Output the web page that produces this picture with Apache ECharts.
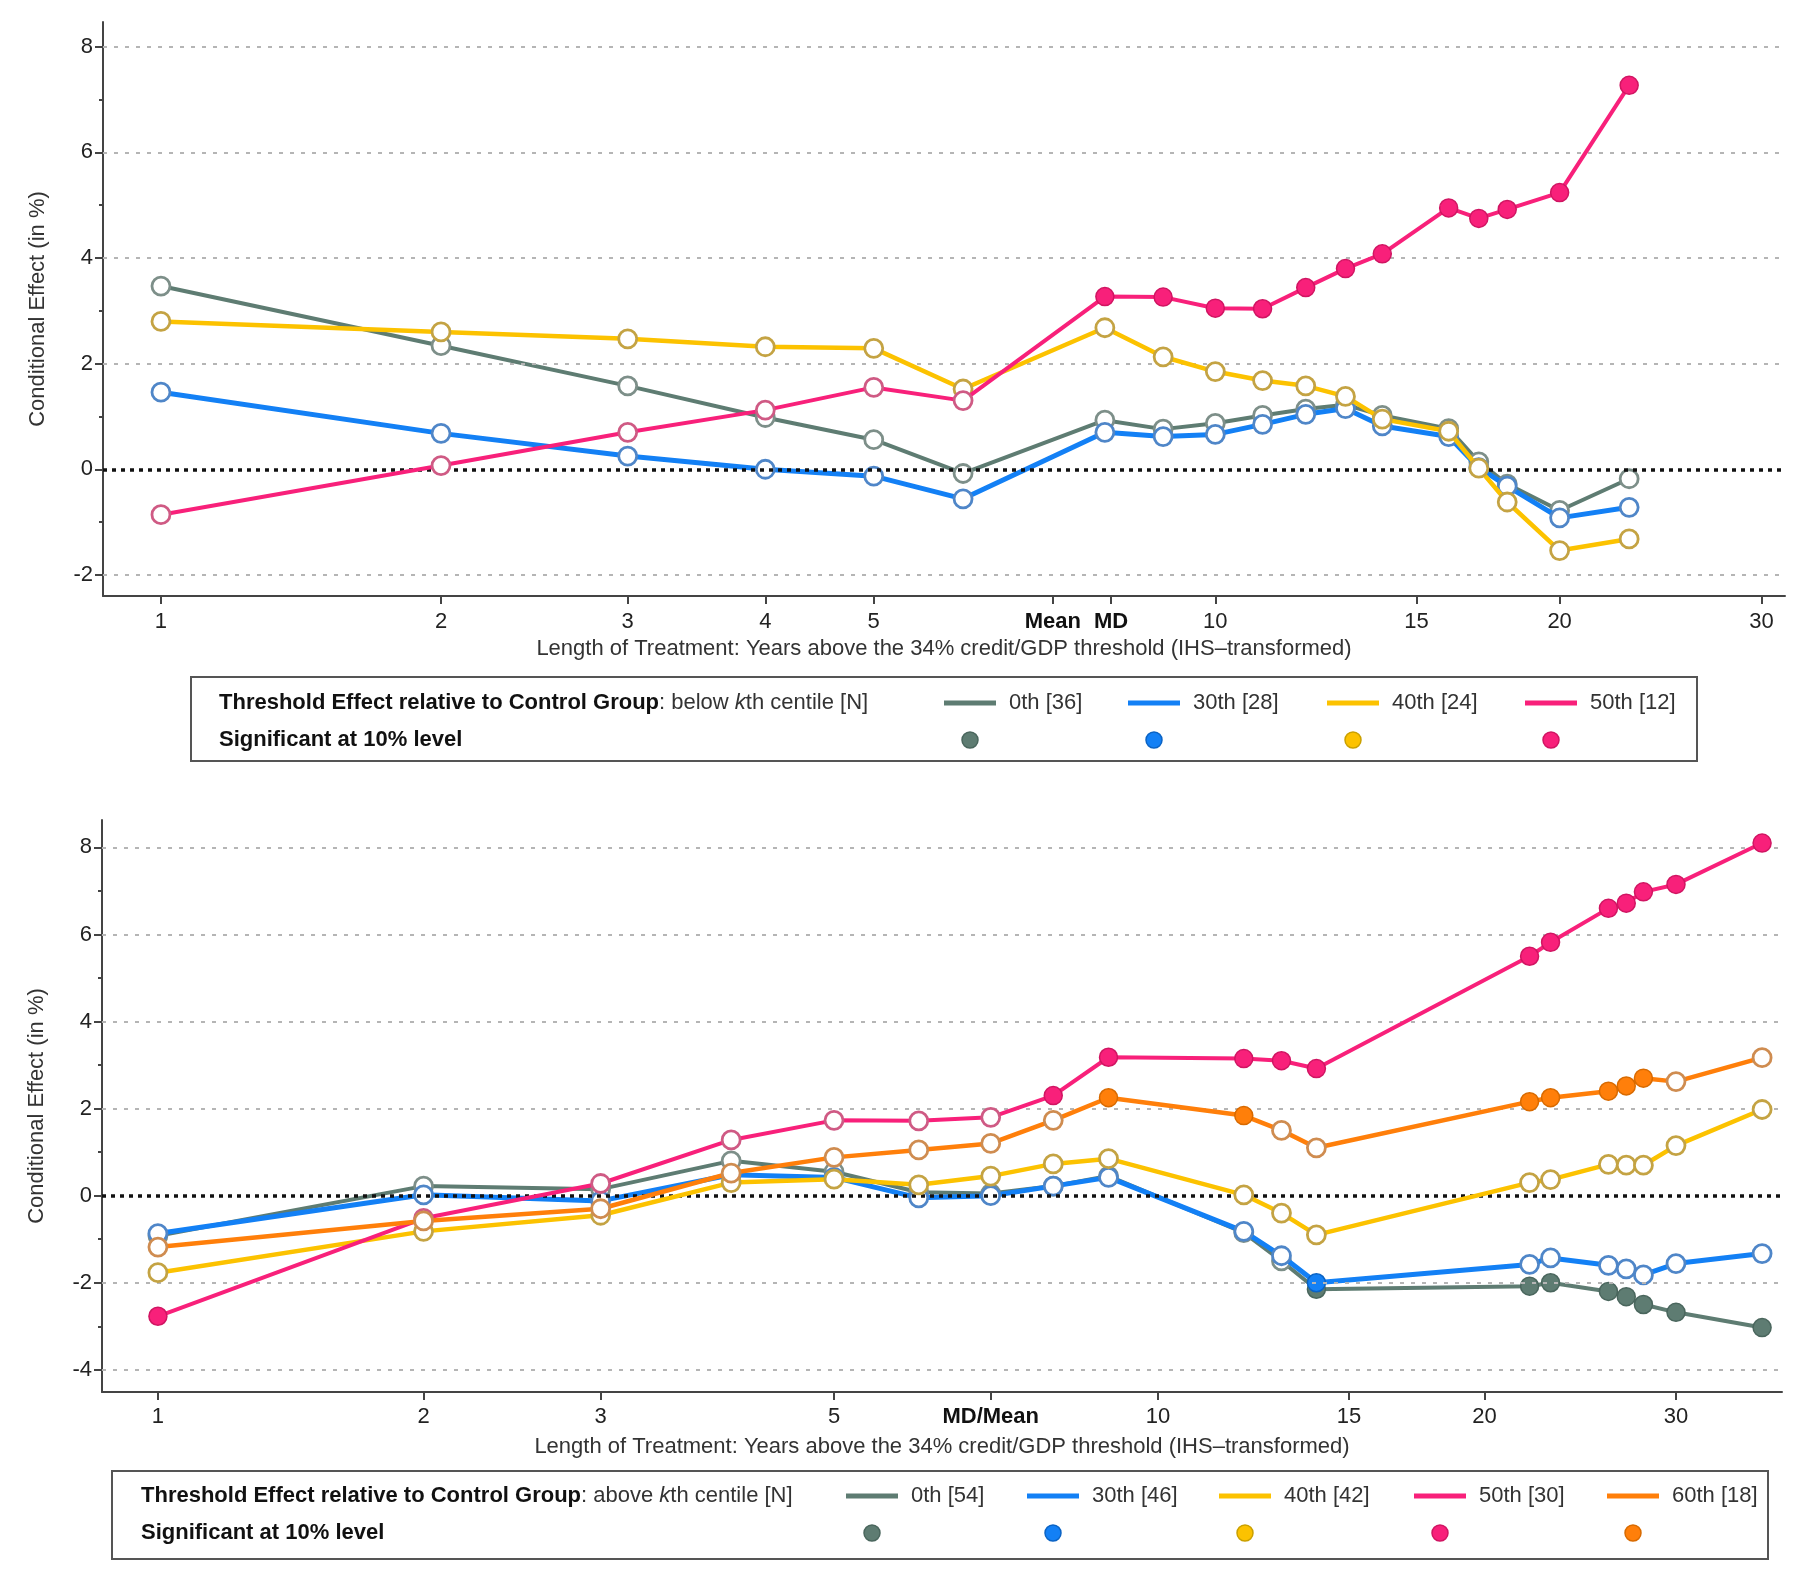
<!DOCTYPE html>
<html><head><meta charset="utf-8">
<script src="https://cdn.jsdelivr.net/npm/echarts@6/dist/echarts.min.js"></script>
<style>html,body{margin:0;padding:0;background:#fff}#c{width:1813px;height:1570px}</style>
</head><body><div id="c"></div>
<script>
// ===== DATA: Panel A (below kth centile) =====
const topYears = [1,2,3,4,5,6,8,9,10,11,12,13,14,16,17,18,20,23];
const topNames = ['0th [36]','30th [28]','40th [24]','50th [12]'];
const top0th  = [3.47,2.34,1.58,0.98,0.56,-0.08,0.93,0.76,0.87,1.02,1.14,1.22,1.02,0.77,0.14,-0.28,-0.78,-0.18];
const top30th = [1.46,0.68,0.25,0.00,-0.13,-0.56,0.70,0.62,0.66,0.85,1.04,1.15,0.82,0.62,0.03,-0.32,-0.92,-0.72];
const top40th = [2.80,2.60,2.47,2.32,2.29,1.52,2.68,2.13,1.85,1.68,1.58,1.38,0.95,0.72,0.02,-0.62,-1.54,-1.32];
const top50th = [-0.86,0.07,0.70,1.12,1.55,1.30,3.27,3.26,3.05,3.04,3.44,3.80,4.08,4.95,4.75,4.92,5.24,7.27];
const topSig0th  = [0,0,0,0,0,0,0,0,0,0,0,0,0,0,0,0,0,0];
const topSig30th = [0,0,0,0,0,0,0,0,0,0,0,0,0,0,0,0,0,0];
const topSig40th = [0,0,0,0,0,0,0,0,0,0,0,0,0,0,0,0,0,0];
const topSig50th = [0,0,0,0,0,0,1,1,1,1,1,1,1,1,1,1,1,1];
const topTickYears  = [1,2,3,4,5,7.2,8.1,10,15,20,30];
const topTickLabels = ['1','2','3','4','5','Mean','MD','10','15','20','30'];

// ===== DATA: Panel B (above kth centile) =====
const botYears = [1,2,3,4,5,6,7,8,9,12,13,14,22,23,26,27,28,30,36];
const botNames = ['0th [54]','30th [46]','40th [42]','50th [30]','60th [18]'];
const bot0th  = [-0.92,0.22,0.15,0.80,0.55,0.08,0.05,0.22,0.45,-0.85,-1.50,-2.15,-2.08,-2.00,-2.20,-2.32,-2.50,-2.68,-3.03];
const bot30th = [-0.87,0.02,-0.12,0.48,0.42,-0.05,0.00,0.22,0.42,-0.82,-1.38,-2.00,-1.58,-1.43,-1.60,-1.68,-1.82,-1.56,-1.33];
const bot40th = [-1.77,-0.82,-0.45,0.30,0.38,0.25,0.45,0.73,0.85,0.02,-0.40,-0.90,0.30,0.37,0.72,0.70,0.70,1.15,1.98];
const bot50th = [-2.77,-0.52,0.28,1.28,1.73,1.72,1.80,2.30,3.18,3.15,3.10,2.92,5.50,5.82,6.60,6.72,6.98,7.15,8.10];
const bot60th = [-1.18,-0.58,-0.30,0.52,0.88,1.05,1.20,1.73,2.25,1.84,1.50,1.10,2.16,2.25,2.40,2.52,2.70,2.62,3.17];
const botSig0th  = [0,0,0,0,0,0,0,0,0,0,0,1,1,1,1,1,1,1,1];
const botSig30th = [0,0,0,0,0,0,0,0,0,0,0,1,0,0,0,0,0,0,0];
const botSig40th = [0,0,0,0,0,0,0,0,0,0,0,0,0,0,0,0,0,0,0];
const botSig50th = [1,0,0,0,0,0,0,1,1,1,1,1,1,1,1,1,1,1,1];
const botSig60th = [0,0,0,0,0,0,0,0,1,1,0,0,1,1,1,1,1,0,0];
const botTickYears  = [1,2,3,5,7,10,15,20,30];
const botTickLabels = ['1','2','3','5','MD/Mean','10','15','20','30'];

const yTicks = [-2,0,2,4,6,8];
const yTicksBot = [-4,-2,0,2,4,6,8];
const yMinor = [-1,1,3,5,7];
const yMinorBot = [-3,-1,1,3,5,7];
const gridVals = [-2,2,4,6,8];
const gridValsBot = [-4,-2,2,4,6,8];

// ===== STYLE =====
const FONT = 'Liberation Sans, Arial, sans-serif';
const TXT = '#222';
const FS = 22;
const pal = [
  {line:'#5e7c72', fill:'#5e7c72', dark:'#4a665d', hollow:'#7d8f89', w:4},
  {line:'#1380f5', fill:'#1380f5', dark:'#0b63c4', hollow:'#4f86c8', w:5},
  {line:'#fcc200', fill:'#fcc200', dark:'#caa000', hollow:'#c4a343', w:4.5},
  {line:'#f8207a', fill:'#f8207a', dark:'#d01562', hollow:'#cf5a84', w:4},
  {line:'#ff7f0a', fill:'#ff7f0a', dark:'#d86a00', hollow:'#cf8c50', w:4.5}
];

const T = Math.asinh;

function mkSeries(name, years, vals, sig, p, xi, yi, z){
  return {
    type:'line', name, xAxisIndex:xi, yAxisIndex:yi, z,
    symbol:'circle', symbolSize:18, showSymbol:true, color:p.line,
    lineStyle:{color:p.line, width:p.w},
    emphasis:{disabled:true}, silent:true,
    data: years.map((yr,i)=>({
      value:[T(yr), vals[i]],
      itemStyle: sig[i] ? {color:p.fill, borderColor:p.dark, borderWidth:1.5}
                        : {color:'#ffffff', borderColor:p.hollow, borderWidth:2.8}
    }))
  };
}

function guideSeries(xi, yi, vals){
  return {
    type:'line', xAxisIndex:xi, yAxisIndex:yi, data:[], z:1, silent:true,
    markLine:{
      silent:true, symbol:['none','none'], label:{show:false}, animation:false,
      data: vals.map(v=>({yAxis:v, lineStyle:{color:'#b5b5b5', type:[4,7], width:2}}))
        .concat([{yAxis:0, lineStyle:{color:'#111', type:[4,5], width:3.5}}])
    }
  };
}

function xAxisCfg(gi, min, max, tickYears, tickLabels, nameGap, margin){
  const tv = tickYears.map(T);
  return {
    type:'value', gridIndex:gi, min, max,
    name:'Length of Treatment: Years above the 34% credit/GDP threshold (IHS\u2013transformed)',
    nameLocation:'middle', nameGap,
    nameTextStyle:{fontFamily:FONT, fontSize:FS, color:'#333'},
    axisLine:{show:true, onZero:false, lineStyle:{color:'#444', width:2}},
    axisTick:{show:true, customValues:tv, length:8, lineStyle:{color:'#444', width:2}},
    axisLabel:{
      customValues:tv, margin, fontFamily:FONT, fontSize:FS, color:TXT,
      formatter:(v)=>{
        let k = 0, best = 1e9;
        tv.forEach((t,i)=>{ const d=Math.abs(t-v); if(d<best){best=d;k=i;} });
        const s = tickLabels[k];
        return isNaN(+s) ? '{b|'+s+'}' : s;
      },
      rich:{b:{fontFamily:FONT, fontSize:FS, fontWeight:'bold', color:'#111'}}
    },
    splitLine:{show:false}
  };
}

function yAxisCfg(gi, min, max, ticks){
  return {
    type:'value', gridIndex:gi, min, max, position:'left',
    name:'Conditional Effect (in %)', nameLocation:'middle', nameGap:54, nameRotate:90,
    nameTextStyle:{fontFamily:FONT, fontSize:FS, color:'#333'},
    axisLine:{show:true, lineStyle:{color:'#444', width:2}},
    axisTick:{show:true, customValues:ticks, length:8, lineStyle:{color:'#444', width:2}},
    axisLabel:{customValues:ticks, margin:10, fontFamily:FONT, fontSize:FS, color:TXT},
    splitLine:{show:false}
  };
}
function yMinorCfg(gi, min, max, ticks){
  return {
    type:'value', gridIndex:gi, min, max, position:'left',
    axisLine:{show:false},
    axisTick:{show:true, customValues:ticks, length:4, lineStyle:{color:'#444', width:2}},
    axisLabel:{show:false}, splitLine:{show:false}
  };
}

// legend drawing (graphic)
function legend(box, textX, row1, row2, prefix, names, itemX){
  const els = [];
  els.push({type:'rect', shape:{x:box[0], y:box[1], width:box[2], height:box[3]},
    style:{fill:'#fff', stroke:'#555', lineWidth:2}, z:10});
  els.push({type:'text', x:textX, y:row1, z:11, style:{
    text:'{b|Threshold Effect relative to Control Group}{n|: '+prefix+' }{i|k}{n|th centile [N]}',
    verticalAlign:'middle',
    rich:{
      b:{fontFamily:FONT, fontSize:FS, fontWeight:'bold', fill:'#111'},
      n:{fontFamily:FONT, fontSize:FS, fill:'#333'},
      i:{fontFamily:FONT, fontSize:FS, fontStyle:'italic', fill:'#333'}
    }}});
  els.push({type:'text', x:textX, y:row2, z:11, style:{
    text:'Significant at 10% level', fontFamily:FONT, fontSize:FS, fontWeight:'bold',
    fill:'#111', verticalAlign:'middle'}});
  names.forEach((nm,i)=>{
    const x0 = itemX[i], p = pal[i];
    els.push({type:'line', z:11, shape:{x1:x0, y1:row1, x2:x0+52, y2:row1},
      style:{stroke:p.line, lineWidth:5}});
    els.push({type:'text', z:11, x:x0+65, y:row1, style:{text:nm, fontFamily:FONT,
      fontSize:FS, fill:'#333', verticalAlign:'middle'}});
    els.push({type:'circle', z:11, shape:{cx:x0+26, cy:row2, r:8},
      style:{fill:p.fill, stroke:p.dark, lineWidth:1.5}});
  });
  return els;
}

const chart = echarts.init(document.getElementById('c'), null, {renderer:'canvas'});
const topSets = [top0th, top30th, top40th, top50th];
const topSigs = [topSig0th, topSig30th, topSig40th, topSig50th];
const botSets = [bot0th, bot30th, bot40th, bot50th, bot60th];
const botSigs = [botSig0th, botSig30th, botSig40th, botSig50th, botSig60th];

const series = [guideSeries(0,0,gridVals), guideSeries(1,2,gridValsBot)];
topSets.forEach((d,i)=>series.push(mkSeries(topNames[i], topYears, d, topSigs[i], pal[i], 0, 0, 3+i)));
botSets.forEach((d,i)=>series.push(mkSeries(botNames[i], botYears, d, botSigs[i], pal[i], 1, 2, 3+i)));

chart.setOption({
  animation:false,
  backgroundColor:'#ffffff',
  grid:[
    {left:103, top:22, width:1682, height:574},
    {left:102, top:820, width:1680, height:572}
  ],
  xAxis:[
    xAxisCfg(0, 0.765, 4.142, topTickYears, topTickLabels, 42, 15),
    xAxisCfg(1, 0.763, 4.319, botTickYears, botTickLabels, 44, 14)
  ],
  yAxis:[
    yAxisCfg(0, -2.4, 8.47, yTicks),
    yMinorCfg(0, -2.4, 8.47, yMinor),
    yAxisCfg(1, -4.51, 8.63, yTicksBot),
    yMinorCfg(1, -4.51, 8.63, yMinorBot)
  ],
  series,
  graphic: legend([191,677,1506,84], 219, 703, 740, 'below', topNames, [944,1128,1327,1525])
    .concat(legend([112,1471,1656,88], 141, 1496, 1533, 'above', botNames, [846,1027,1219,1414,1607]))
});
</script></body></html>
